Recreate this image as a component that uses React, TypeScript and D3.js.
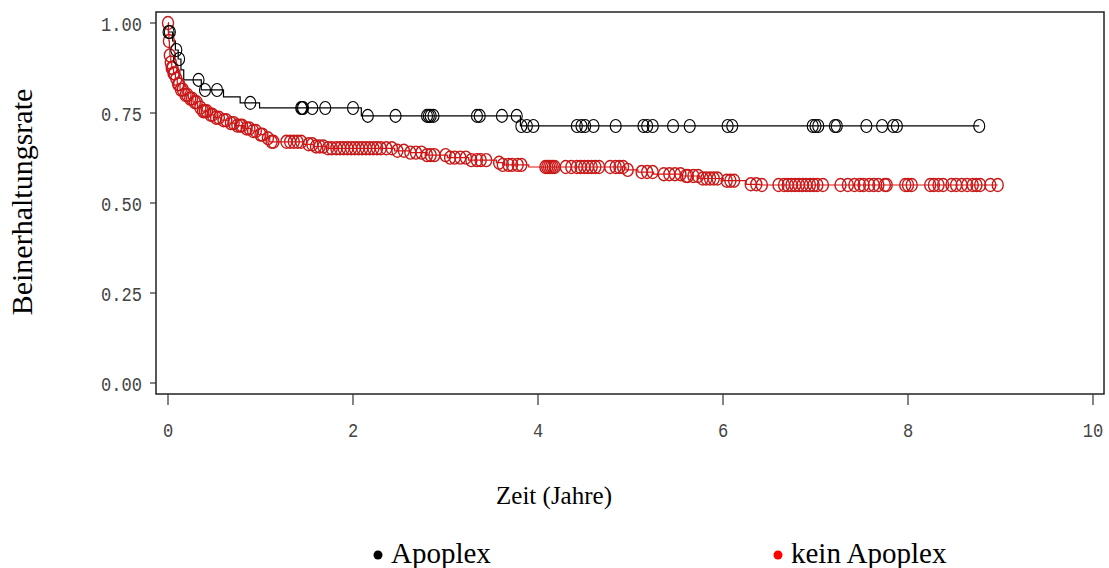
import React from "react";
import * as d3 from "d3";

// Kaplan-Meier step events: [time (years), survival after event]
const apoplexSteps: [number, number][] = [
  [0, 1.0], [0.005, 0.975], [0.05, 0.95], [0.08, 0.925], [0.11, 0.9], [0.14, 0.87],
  [0.17, 0.842], [0.36, 0.814], [0.6, 0.795], [0.78, 0.778], [0.99, 0.764],
  [2.09, 0.742], [3.81, 0.714],
];
const apoplexEnd = 8.77;
const apoplexCensored: number[] = [
  0.006, 0.02, 0.09, 0.12, 0.33, 0.4, 0.53, 0.89,
  1.44, 1.45, 1.46, 1.56, 1.7, 2.0,
  2.16, 2.46, 2.8, 2.82, 2.84, 2.87, 3.34, 3.37, 3.61, 3.77,
  3.82, 3.88, 3.95, 4.42, 4.47, 4.51, 4.6, 4.84, 5.14, 5.18, 5.24, 5.46, 5.64,
  6.05, 6.1, 6.97, 7.0, 7.03, 7.21, 7.23, 7.55, 7.72, 7.84, 7.88, 8.77,
];

const keinSteps: [number, number][] = [
  [0, 1.0], [0.005, 0.97], [0.01, 0.95], [0.015, 0.93], [0.02, 0.91], [0.03, 0.89],
  [0.04, 0.875], [0.06, 0.86], [0.08, 0.845], [0.1, 0.83], [0.13, 0.815], [0.17, 0.8],
  [0.22, 0.79], [0.27, 0.78], [0.32, 0.765], [0.37, 0.755], [0.43, 0.745], [0.5, 0.737],
  [0.57, 0.73], [0.65, 0.722], [0.73, 0.715], [0.82, 0.707], [0.9, 0.7], [0.97, 0.69],
  [1.05, 0.68], [1.1, 0.67], [1.47, 0.663], [1.57, 0.657], [1.72, 0.652], [2.45, 0.645],
  [2.62, 0.64], [2.8, 0.633], [3.02, 0.626], [3.25, 0.619], [3.55, 0.612], [3.62, 0.606],
  [3.9, 0.6], [4.95, 0.592], [5.08, 0.586], [5.25, 0.58], [5.55, 0.575], [5.75, 0.568],
  [6.0, 0.562], [6.25, 0.552], [6.4, 0.55],
];
const keinEnd = 8.97;
const keinCensored: number[] = [
  0.0, 0.01, 0.02, 0.03, 0.04, 0.05, 0.06, 0.07, 0.09, 0.11, 0.12, 0.14, 0.16, 0.19,
  0.21, 0.24, 0.26, 0.29, 0.31, 0.35, 0.38, 0.4, 0.42, 0.46, 0.48, 0.52, 0.55, 0.6,
  0.63, 0.68, 0.71, 0.75, 0.78, 0.8, 0.85, 0.88, 0.92, 0.95, 1.0, 1.02, 1.08, 1.12,
  1.14, 1.28, 1.32, 1.36, 1.4, 1.44, 1.52, 1.56, 1.6, 1.64, 1.68,
  1.73, 1.77, 1.82, 1.86, 1.9, 1.94, 1.98, 2.02, 2.06, 2.1, 2.14, 2.18, 2.22, 2.26,
  2.3, 2.36, 2.42, 2.48, 2.55, 2.62, 2.68, 2.74, 2.8, 2.84, 2.88,
  3.0, 3.05, 3.1, 3.16, 3.22, 3.28, 3.34, 3.38, 3.44, 3.58, 3.62, 3.68, 3.72, 3.78,
  3.82, 4.08, 4.1, 4.12, 4.14, 4.16, 4.18, 4.3, 4.36, 4.42, 4.46, 4.5, 4.54, 4.58,
  4.62, 4.66, 4.78, 4.84, 4.88, 4.92, 4.97, 5.12, 5.18, 5.24, 5.36, 5.42, 5.48, 5.54,
  5.6, 5.62, 5.68, 5.73, 5.78, 5.82, 5.86, 5.9, 5.94, 6.04, 6.08, 6.12, 6.3, 6.36,
  6.42, 6.6, 6.66, 6.7, 6.74, 6.78, 6.82, 6.86, 6.9, 6.94, 6.98, 7.02, 7.08, 7.27,
  7.35, 7.42, 7.48, 7.52, 7.58, 7.63, 7.68, 7.75, 7.77, 7.97, 8.0, 8.04, 8.24, 8.28,
  8.33, 8.38, 8.47, 8.52, 8.58, 8.64, 8.7, 8.74, 8.78, 8.89, 8.97,
];

const xTicks = [0, 2, 4, 6, 8, 10];
const yTicks = [0, 0.25, 0.5, 0.75, 1.0];
const legendLabels = ["Apoplex", "kein Apoplex"];

const W = 1109;
const H = 568;
const frame = { left: 156, right: 1104, top: 12, bottom: 394 };

function survivalAt(steps: [number, number][], t: number): number {
  let s = steps[0][1];
  for (const [ti, si] of steps) {
    if (ti <= t) s = si;
    else break;
  }
  return s;
}

export default function App() {
  const x = d3.scaleLinear().domain([0, 10]).range([168, 1093]);
  const y = d3.scaleLinear().domain([0, 1]).range([383, 23]);

  const line = d3
    .line<[number, number]>()
    .x((d) => x(d[0]))
    .y((d) => y(d[1]))
    .curve(d3.curveStepAfter);

  const apoPath = line([...apoplexSteps, [apoplexEnd, apoplexSteps[apoplexSteps.length - 1][1]]]) || "";
  const keinPath = line([...keinSteps, [keinEnd, keinSteps[keinSteps.length - 1][1]]]) || "";

  const mono = "'Liberation Mono', 'DejaVu Sans Mono', monospace";
  const serif = "'Liberation Serif', 'Times New Roman', serif";
  const red = "#e01010";
  const circleRed = "#c81818";
  const legendX = [378, 778];
  const legendColors = ["#000", "#ff0000"];

  return (
    <svg width={W} height={H} style={{ position: "absolute", left: 0, top: 0, background: "#fff" }}>
      <rect x={0} y={0} width={W} height={H} fill="#fff" />
      {/* frame */}
      <rect
        x={frame.left}
        y={frame.top}
        width={frame.right - frame.left}
        height={frame.bottom - frame.top}
        fill="none"
        stroke="#222"
        strokeWidth={1.5}
      />
      {/* y ticks */}
      {yTicks.map((v) => (
        <g key={"y" + v}>
          <line x1={150} x2={frame.left} y1={y(v)} y2={y(v)} stroke="#333" strokeWidth={1.2} />
          <text
            transform={`translate(142,${y(v) + 3}) scale(0.95,1.15)`}
            textAnchor="end"
            dominantBaseline="middle"
            fontFamily={mono}
            fontSize={18}
            fill="#444"
          >
            {d3.format(".2f")(v)}
          </text>
        </g>
      ))}
      {/* x ticks */}
      {xTicks.map((v) => (
        <g key={"x" + v}>
          <line x1={x(v)} x2={x(v)} y1={frame.bottom} y2={405} stroke="#333" strokeWidth={1.2} />
          <text
            transform={`translate(${x(v)},432) scale(0.95,1.15)`}
            textAnchor="middle"
            dominantBaseline="middle"
            fontFamily={mono}
            fontSize={18}
            fill="#444"
          >
            {v}
          </text>
        </g>
      ))}
      {/* curves */}
      <path d={apoPath} fill="none" stroke="#000" strokeWidth={1.2} />
      <path d={keinPath} fill="none" stroke={red} strokeWidth={1.2} />
      {keinCensored.map((t, i) => (
        <ellipse
          key={"k" + i}
          cx={x(t)}
          cy={y(survivalAt(keinSteps, t))}
          rx={5.5}
          ry={6.5}
          fill="none"
          stroke={circleRed}
          strokeWidth={1.4}
        />
      ))}
      {apoplexCensored.map((t, i) => (
        <ellipse
          key={"a" + i}
          cx={x(t)}
          cy={y(survivalAt(apoplexSteps, t))}
          rx={5.5}
          ry={6.5}
          fill="none"
          stroke="#000"
          strokeWidth={1.1}
        />
      ))}
      {/* axis titles */}
      <text
        transform={`translate(32,202) rotate(-90)`}
        textAnchor="middle"
        fontFamily={serif}
        fontSize={30}
        fill="#000"
      >
        Beinerhaltungsrate
      </text>
      <text x={554} y={504} textAnchor="middle" fontFamily={serif} fontSize={25} fill="#000">
        Zeit (Jahre)
      </text>
      {/* legend */}
      {legendLabels.map((lab, i) => (
        <g key={lab}>
          <circle cx={legendX[i]} cy={555} r={4.5} fill={legendColors[i]} />
          <text x={legendX[i] + 13} y={563} fontFamily={serif} fontSize={29} fill="#000">
            {lab}
          </text>
        </g>
      ))}
    </svg>
  );
}
